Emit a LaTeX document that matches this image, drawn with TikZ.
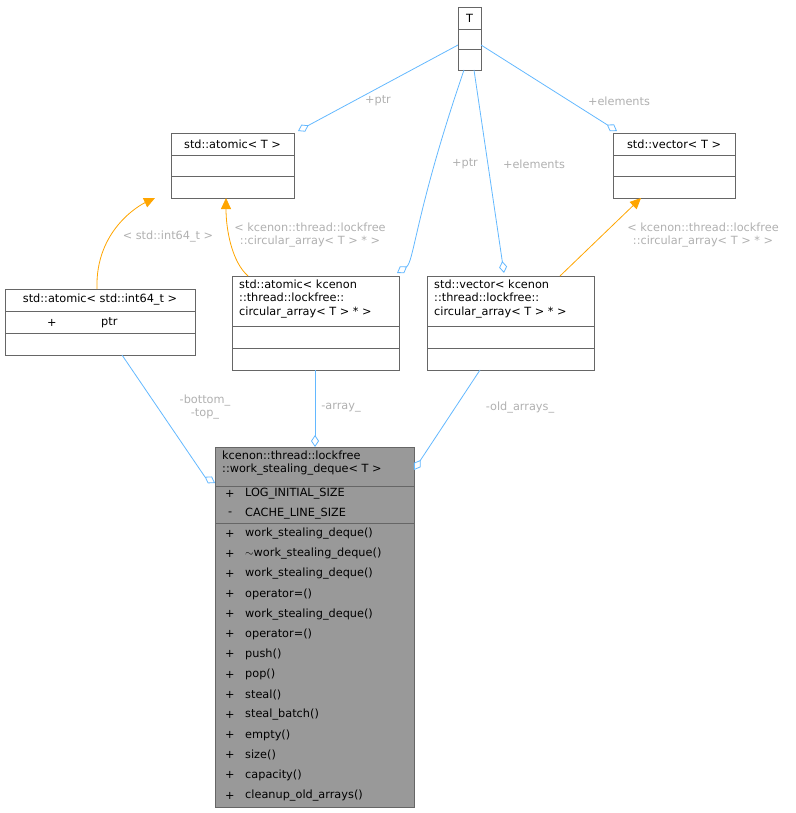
\documentclass[tikz,border=0pt]{standalone}
\usepackage{fontspec}
\setmainfont{DejaVu Sans}
\usetikzlibrary{arrows.meta}
\definecolor{edgeb}{HTML}{63B8FF}
\definecolor{lbl}{HTML}{B0B0B0}
\definecolor{boxg}{HTML}{666666}
\definecolor{inhc}{HTML}{FFA500}
\begin{document}
\begin{tikzpicture}[x=1pt,y=-1pt,
  font=\fontsize{11.3}{13.2}\selectfont,
  box/.style={draw=boxg,fill=white,line width=0.7pt},
  txt/.style={inner sep=0pt,anchor=west},
  ctxt/.style={inner sep=0pt,align=center},
  lab/.style={text=lbl,inner sep=0pt,align=center,font=\fontsize{11.3}{12.5}\selectfont},
  comp/.style={edgeb,line width=0.8pt,{Diamond[open,length=12pt,width=8pt,fill=white]}-},
  inh/.style={inhc,line width=0.8pt,-{Triangle[length=11pt,width=10pt]}}]
\useasboundingbox (0,0) rectangle (795,813);
% T
\draw[box] (458,7) rectangle (481,70);
\draw[boxg] (458,29)--(481,29) (458,49)--(481,49);
\node[ctxt] (T) at (469.5,18) {T};
% atomic<T>
\draw[box] (171,133) rectangle (294,198);
\draw[boxg] (171,155)--(294,155) (171,176)--(294,176);
\node[ctxt] (aT) at (232.5,144) {std::atomic< T >};
% vector<T>
\draw[box] (613,133) rectangle (735,198);
\draw[boxg] (613,155)--(735,155) (613,176)--(735,176);
\node[ctxt] (vT) at (674,144) {std::vector< T >};
% atomic<int64>
\draw[box] (5,289) rectangle (195,355);
\draw[boxg] (5,311)--(195,311) (5,333)--(195,333);
\node[ctxt] (ai) at (100,300) {std::atomic< std::int64\_t >};
\node[txt] at (47,323) {+};
\node[txt] at (101,323) {ptr};
% atomic<kcenon>
\draw[box] (232,276) rectangle (399,370);
\draw[boxg] (232,326)--(399,326) (232,348)--(399,348);
\node[txt,align=left,anchor=north west] (ak) at (239,280) {std::atomic< kcenon\\::thread::lockfree::\\circular\_array< T > * >};
% vector<kcenon>
\draw[box] (427,276) rectangle (594,370);
\draw[boxg] (427,326)--(594,326) (427,348)--(594,348);
\node[txt,align=left,anchor=north west] (vk) at (434,280) {std::vector< kcenon\\::thread::lockfree::\\circular\_array< T > * >};
% main
\draw[draw=boxg,fill=black!40,line width=0.7pt] (215,447) rectangle (414,807);
\draw[boxg] (215,486)--(414,486) (215,523)--(414,523);
\node[txt,align=left,anchor=north west] (m) at (222,451) {kcenon::thread::lockfree\\::work\_stealing\_deque< T >};
\node[txt] at (225,494) {+};\node[txt] at (245,494) {LOG\_INITIAL\_SIZE};
\node[txt] at (228,514) {-};\node[txt] at (245,514) {CACHE\_LINE\_SIZE};
\foreach \t [count=\i from 0] in {work\_stealing\_deque(),$\sim$work\_stealing\_deque(),work\_stealing\_deque(),operator=(),work\_stealing\_deque(),operator=(),push(),pop(),steal(),steal\_batch(),empty(),size(),capacity(),cleanup\_old\_arrays()}{
  \node[txt] at (225,533.5+\i*20.15) {+};
  \node[txt] at (245,533.5+\i*20.15) {\t};}
% edges from T
\draw[comp] (298,131) -- (458,45);
\node[lab] at (378,101) {+ptr};
\draw[comp] (617,131) -- (481,45);
\node[lab] at (619,101) {+elements};
\draw[comp] (397,273) .. controls (414,262) and (416,210) .. (464,70);
\node[lab] at (465,164) {+ptr};
\draw[comp] (504,273) -- (474,70);
\node[lab] at (534,164) {+elements};
% inheritance
\draw[inh] (97,289) .. controls (95,230) and (140,205) .. (155,198);
\node[lab] at (168,237) {< std::int64\_t >};
\draw[inh] (248,276) .. controls (232,262) and (226,230) .. (226,198);
\node[lab] at (310,235) {< kcenon::thread::lockfree\\::circular\_array< T > * >};
\draw[inh] (560,276) -- (641,198);
\node[lab] at (703,235) {< kcenon::thread::lockfree\\::circular\_array< T > * >};
% to main
\draw[comp] (215,483) -- (205,477) -- (122,355);
\node[lab] at (205,407) {-bottom\_\\-top\_};
\draw[comp] (315,447) -- (315,370);
\node[lab] at (341,408) {-array\_};
\draw[comp] (414,470) -- (480,370);
\node[lab] at (520,408) {-old\_arrays\_};
\end{tikzpicture}
\end{document}
